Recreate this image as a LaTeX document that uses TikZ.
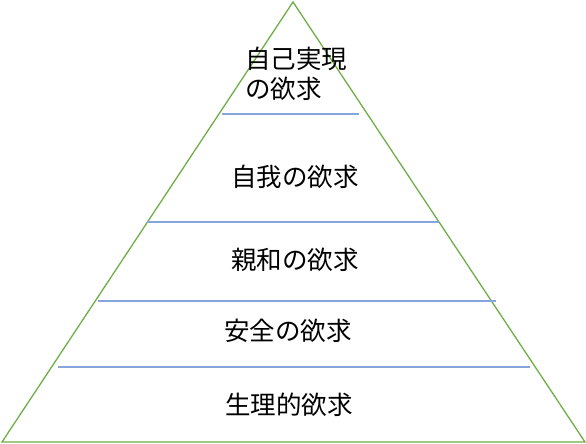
\documentclass[tikz,border=0pt]{standalone}
\usepackage{fontspec}
\newfontfamily\jp{Noto Sans CJK JP}
\definecolor{tri}{HTML}{70AD47}
\definecolor{lvl}{HTML}{85A5DC}
\begin{document}
\begin{tikzpicture}[x=1pt,y=-1pt,
  lab/.style={font=\jp\fontsize{25.5}{30}\selectfont, inner sep=0pt, anchor=center},
  sep/.style={draw=lvl, line width=1.3pt},
  edge/.style={draw=tri, line width=1.3pt, line join=miter}]
\useasboundingbox (0,0) rectangle (586,444);
\coordinate (apex) at (293,2);
\coordinate (bl) at (2,442);
\coordinate (br) at (585,442);
\draw[edge] (apex) -- (br) -- (bl) -- cycle;
\coordinate (l1a) at (222,114); \coordinate (l1b) at (359,114);
\coordinate (l2a) at (147,222); \coordinate (l2b) at (439,222);
\coordinate (l3a) at (98,301);  \coordinate (l3b) at (496,301);
\coordinate (l4a) at (58,367);  \coordinate (l4b) at (530,367);
\draw[sep] (l1a) -- (l1b);
\draw[sep] (l2a) -- (l2b);
\draw[sep] (l3a) -- (l3b);
\draw[sep] (l4a) -- (l4b);
\node[lab, anchor=west] (t1a) at (245,59) {自己実現};
\node[lab, anchor=west] (t1b) at (245,89) {の欲求};
\node[lab] (t2) at (295,177) {自我の欲求};
\node[lab] (t3) at (295,260) {親和の欲求};
\node[lab] (t4) at (288,331) {安全の欲求};
\node[lab] (t5) at (289,405) {生理的欲求};
\end{tikzpicture}
\end{document}
